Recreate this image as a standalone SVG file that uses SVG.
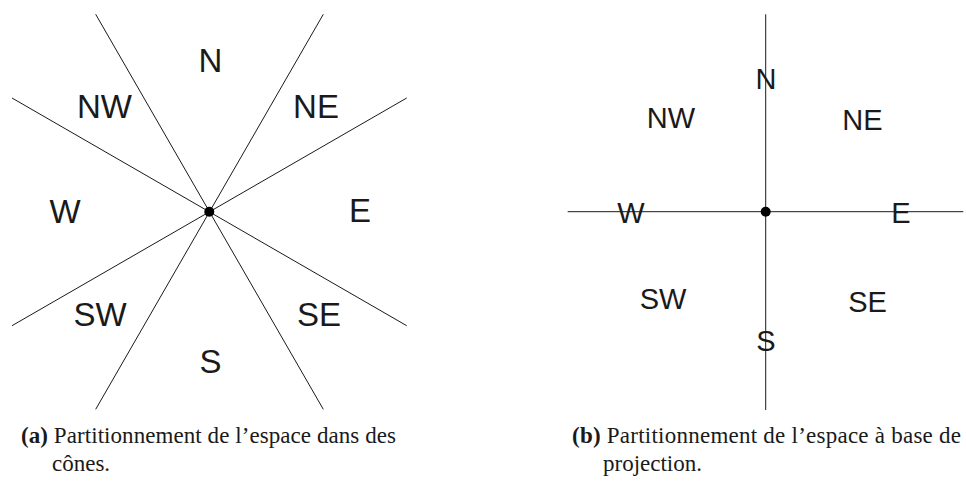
<svg xmlns="http://www.w3.org/2000/svg" width="966" height="481" viewBox="0 0 966 481">
<style>
.ln{stroke:#1a1a1a;stroke-width:1;fill:none}
.dot{fill:#000}
.lbl{font-family:"Liberation Sans",Arial,sans-serif;fill:#1a1a1a;text-anchor:middle}
.l1{font-size:33px}
.l2{font-size:29px}
.cap{font-family:"Liberation Serif","Times New Roman",serif;font-size:23px;fill:#1a1a1a}
.b{font-weight:bold}
</style>
<rect width="966" height="481" fill="#fff"/>
<g id="connectors">
<line class="ln" x1="95.7" y1="14.3" x2="323.3" y2="409.3"/>
<line class="ln" x1="323.3" y1="14.3" x2="95.7" y2="409.3"/>
<line class="ln" x1="12" y1="98" x2="406.7" y2="325.7"/>
<line class="ln" x1="406.7" y1="98" x2="12" y2="325.7"/>
<line class="ln" x1="765.7" y1="14.3" x2="765.7" y2="410"/>
<line class="ln" x1="567.7" y1="211.7" x2="963.3" y2="211.7"/>
</g>
<g id="center-a"><circle class="dot" cx="209.3" cy="211.7" r="5"/></g>
<g id="center-b"><circle class="dot" cx="765.7" cy="211.7" r="5"/></g>
<g id="a-N"><text class="lbl l1" x="210.5" y="72">N</text></g>
<g id="a-NW"><text class="lbl l1" x="104.5" y="118">NW</text></g>
<g id="a-NE"><text class="lbl l1" x="316" y="118">NE</text></g>
<g id="a-W"><text class="lbl l1" x="65" y="222.7">W</text></g>
<g id="a-E"><text class="lbl l1" x="360" y="222">E</text></g>
<g id="a-SW"><text class="lbl l1" x="100" y="325.7">SW</text></g>
<g id="a-SE"><text class="lbl l1" x="319" y="326">SE</text></g>
<g id="a-S"><text class="lbl l1" x="210.5" y="373">S</text></g>
<g id="b-N"><text class="lbl l2" x="766" y="89.3">N</text></g>
<g id="b-NW"><text class="lbl l2" x="671" y="127.7">NW</text></g>
<g id="b-NE"><text class="lbl l2" x="862.5" y="130">NE</text></g>
<g id="b-W"><text class="lbl l2" x="631" y="222.7">W</text></g>
<g id="b-E"><text class="lbl l2" x="901" y="222.7">E</text></g>
<g id="b-SW"><text class="lbl l2" x="663" y="309.3">SW</text></g>
<g id="b-SE"><text class="lbl l2" x="867.5" y="311.7">SE</text></g>
<g id="b-S"><text class="lbl l2" x="766" y="351">S</text></g>
<g id="caption-a">
<text class="cap" x="21" y="443" textLength="375" lengthAdjust="spacing"><tspan class="b">(a)</tspan> Partitionnement de l’espace dans des</text>
<text class="cap" x="52" y="471">cônes.</text>
</g>
<g id="caption-b">
<text class="cap" x="572" y="443" textLength="389" lengthAdjust="spacing"><tspan class="b">(b)</tspan> Partitionnement de l’espace à base de</text>
<text class="cap" x="603" y="471">projection.</text>
</g>
</svg>
